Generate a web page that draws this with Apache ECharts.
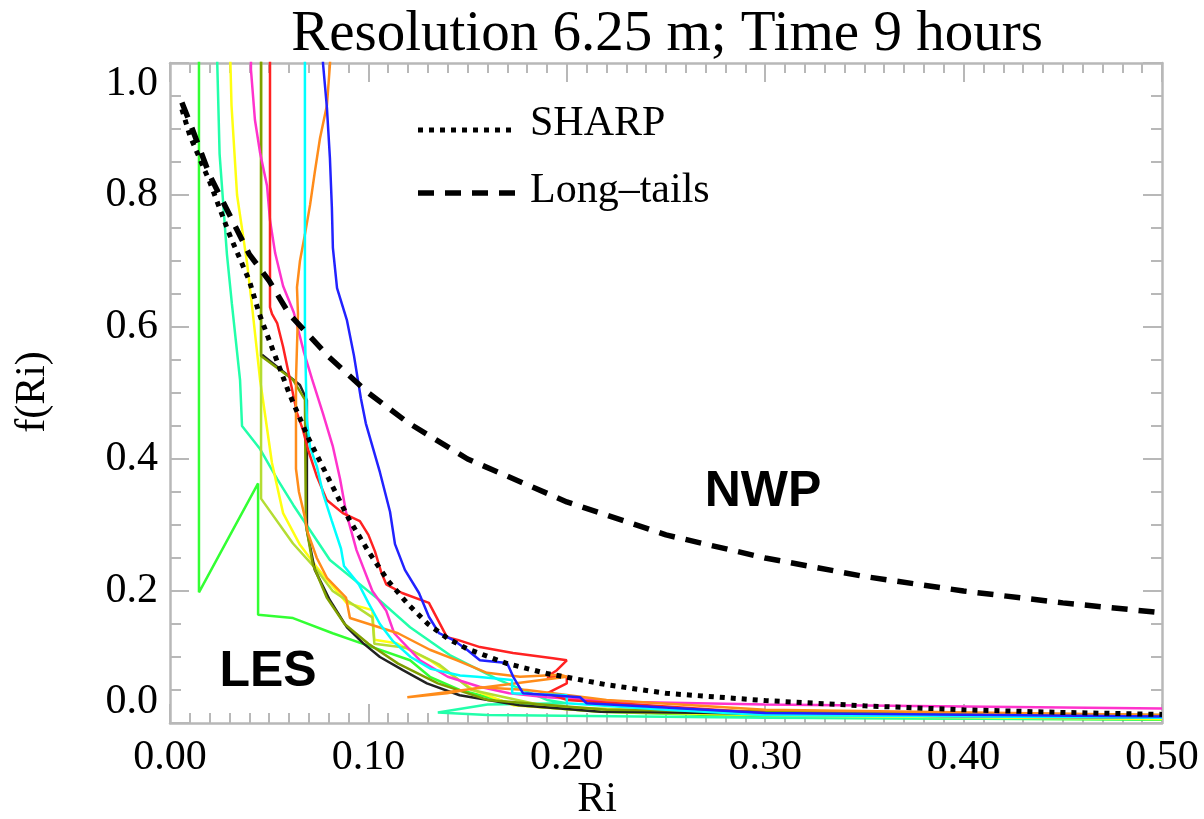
<!DOCTYPE html>
<html><head><meta charset="utf-8">
<script src="https://cdn.jsdelivr.net/npm/echarts@6/dist/echarts.min.js"></script>
<style>html,body{margin:0;padding:0;background:#fff}#c{width:1204px;height:819px}</style>
</head><body><div id="c"></div><script>
// ---- Text ----
const chartTitle = 'Resolution 6.25 m; Time 9 hours';
const xName = 'Ri';
const yName = 'f(Ri)';
const legendNames = ['SHARP', 'Long\u2013tails'];

// ---- Parametrised closures ----
const sharpRi = [0.006, 0.01, 0.02, 0.03, 0.04, 0.045, 0.05, 0.06, 0.07, 0.08, 0.09, 0.10, 0.11, 0.12, 0.13, 0.14, 0.15, 0.17, 0.19, 0.22, 0.25, 0.30, 0.35, 0.40, 0.45, 0.50];
const sharpF  = [0.93, 0.89, 0.82, 0.74, 0.67, 0.62, 0.58, 0.50, 0.43, 0.37, 0.31, 0.26, 0.215, 0.18, 0.15, 0.128, 0.112, 0.09, 0.075, 0.058, 0.045, 0.034, 0.026, 0.020, 0.016, 0.013];
const longRi = [0.006, 0.01, 0.02, 0.03, 0.04, 0.05, 0.06, 0.08, 0.10, 0.12, 0.15, 0.20, 0.25, 0.30, 0.35, 0.40, 0.45, 0.50];
const longF  = [0.94, 0.91, 0.83, 0.77, 0.71, 0.67, 0.62, 0.555, 0.50, 0.455, 0.40, 0.335, 0.285, 0.25, 0.222, 0.20, 0.182, 0.167];

// ---- LES curves [Ri, f(Ri)] ----
const lesGreen = [[0.0146,1.2],[0.0146,0.198],[0.0444,0.363],[0.0444,0.164],[0.062,0.159],[0.082,0.136],[0.102,0.115],[0.121,0.095],[0.131,0.07],[0.146,0.05],[0.176,0.027],[0.217,0.017],[0.318,0.008],[0.5,0.005]];
const lesAqua = [[0.0221,1.2],[0.025,0.862],[0.0287,0.71],[0.0312,0.635],[0.0353,0.52],[0.0363,0.45],[0.0454,0.415],[0.054,0.37],[0.0622,0.33],[0.0806,0.247],[0.106,0.185],[0.121,0.145],[0.141,0.103],[0.166,0.065],[0.19,0.035],[0.2,0.03],[0.16,0.028],[0.135,0.016],[0.16,0.012],[0.3,0.008],[0.5,0.006]];
const lesYellow = [[0.0287,1.2],[0.031,0.936],[0.0338,0.8],[0.0388,0.698],[0.0413,0.633],[0.0454,0.52],[0.0514,0.394],[0.057,0.318],[0.0655,0.27],[0.074,0.236],[0.084,0.2],[0.089,0.182],[0.102,0.171],[0.103,0.126],[0.114,0.121],[0.131,0.095],[0.153,0.05],[0.173,0.027],[0.217,0.017],[0.318,0.011],[0.5,0.006]];
const lesMagenta = [[0.0408,1.2],[0.0408,0.99],[0.0428,0.914],[0.0454,0.864],[0.0489,0.814],[0.0504,0.762],[0.053,0.712],[0.057,0.662],[0.0624,0.622],[0.0675,0.562],[0.0716,0.521],[0.077,0.47],[0.082,0.42],[0.0857,0.37],[0.0887,0.32],[0.094,0.262],[0.102,0.2],[0.109,0.17],[0.113,0.136],[0.126,0.095],[0.14,0.07],[0.156,0.055],[0.171,0.045],[0.19,0.039],[0.232,0.032],[0.3,0.028],[0.4,0.025],[0.5,0.022]];
const lesYellowGreen = [[0.0459,1.2],[0.0459,0.34],[0.062,0.272],[0.074,0.232],[0.082,0.2],[0.102,0.16],[0.103,0.12],[0.119,0.114],[0.136,0.088],[0.152,0.05],[0.19,0.025],[0.3,0.012],[0.5,0.009]];
const lesOlive = [[0.0459,1.2],[0.0459,0.556],[0.062,0.52],[0.068,0.49],[0.0685,0.3],[0.072,0.24],[0.079,0.19],[0.088,0.15],[0.1,0.12],[0.115,0.09],[0.135,0.06],[0.16,0.035],[0.22,0.02],[0.5,0.012]];
const lesBlack = [[0.0464,0.558],[0.0655,0.512],[0.069,0.489],[0.069,0.292],[0.073,0.232],[0.0806,0.186],[0.0892,0.145],[0.0973,0.121],[0.1058,0.1],[0.1174,0.08],[0.1295,0.06],[0.146,0.042],[0.176,0.027],[0.217,0.017],[0.5,0.008]];
const lesRed = [[0.0504,1.2],[0.0504,0.63],[0.0514,0.62],[0.054,0.606],[0.057,0.57],[0.0605,0.52],[0.064,0.47],[0.067,0.444],[0.0696,0.414],[0.0741,0.373],[0.079,0.338],[0.0871,0.318],[0.0957,0.306],[0.1,0.285],[0.1033,0.26],[0.1063,0.23],[0.109,0.21],[0.117,0.197],[0.1305,0.182],[0.1396,0.13],[0.145,0.126],[0.1562,0.115],[0.1729,0.106],[0.193,0.098],[0.2,0.095],[0.195,0.08],[0.19,0.07],[0.2,0.07],[0.2,0.06],[0.19,0.045],[0.2,0.035],[0.25,0.025],[0.3,0.015],[0.4,0.01],[0.5,0.008]];
const lesCyan = [[0.068,1.2],[0.068,0.6],[0.0685,0.52],[0.069,0.458],[0.0706,0.418],[0.0741,0.388],[0.0771,0.348],[0.0816,0.306],[0.0862,0.264],[0.0877,0.238],[0.0952,0.21],[0.1,0.182],[0.1058,0.15],[0.1124,0.124],[0.1213,0.1],[0.1315,0.082],[0.1462,0.072],[0.1547,0.07],[0.1724,0.065],[0.1725,0.045],[0.2,0.042],[0.2,0.03],[0.25,0.02],[0.3,0.012],[0.5,0.008]];
const lesBlue = [[0.0771,1.2],[0.0771,1.0],[0.0791,0.932],[0.0806,0.856],[0.0816,0.78],[0.0821,0.72],[0.0842,0.659],[0.0892,0.61],[0.0927,0.557],[0.0962,0.492],[0.0987,0.454],[0.1058,0.38],[0.1109,0.32],[0.1134,0.271],[0.1184,0.232],[0.1255,0.197],[0.1305,0.161],[0.1356,0.136],[0.1426,0.126],[0.1497,0.111],[0.1562,0.095],[0.1699,0.091],[0.173,0.07],[0.178,0.045],[0.2067,0.039],[0.21,0.03],[0.3,0.015],[0.5,0.01]];
const lesOrange = [[0.0815,1.05],[0.0806,0.997],[0.0791,0.936],[0.0756,0.886],[0.073,0.835],[0.0706,0.785],[0.068,0.74],[0.0655,0.7],[0.064,0.66],[0.0645,0.62],[0.0635,0.52],[0.0635,0.445],[0.0635,0.385],[0.065,0.35],[0.0675,0.318],[0.0695,0.288],[0.074,0.25],[0.0791,0.22],[0.0887,0.19],[0.0907,0.159],[0.1149,0.136],[0.131,0.111],[0.1447,0.095],[0.1598,0.076],[0.1764,0.07],[0.1966,0.073],[0.2,0.07],[0.1196,0.039],[0.1396,0.045],[0.1562,0.054],[0.18,0.05],[0.22,0.035],[0.3,0.02],[0.5,0.012]];

const lesCurves = [
  {data: lesGreen, color: '#33ff33'},
  {data: lesAqua, color: '#22ffaa'},
  {data: lesYellow, color: '#ffff11'},
  {data: lesYellowGreen, color: '#b4dd33'},
  {data: lesBlack, color: '#222222'},
  {data: lesOlive, color: '#7f9f00'},
  {data: lesMagenta, color: '#ff33cc'},
  {data: lesRed, color: '#ff2222'},
  {data: lesOrange, color: '#ff8c1a'},
  {data: lesCyan, color: '#00ffff'},
  {data: lesBlue, color: '#2222ff'}
];

const axisGray = '#b8b8b8';
const serif = '"Liberation Serif", "DejaVu Serif", serif';
const sharpDash = [5, 6];
const longDash = [16, 11];

function boxAxis(pos, extra) {
  return Object.assign({
    type: 'value', position: pos,
    axisLine: {show: true, onZero: false, lineStyle: {color: axisGray, width: 2.5}},
    axisTick: {show: true, inside: true, length: 19, lineStyle: {color: axisGray, width: 2}},
    splitLine: {show: false}
  }, extra);
}

const xLabel = {fontFamily: serif, fontSize: 42, color: '#000', margin: 14, formatter: v => v.toFixed(2)};
const yLabel = {fontFamily: serif, fontSize: 42, color: '#000', margin: 12, formatter: v => v.toFixed(1),
  verticalAlignMaxLabel: 'top', verticalAlignMinLabel: 'bottom'};

const series = lesCurves.map(c => ({
  type: 'line', data: c.data, symbol: 'none', showSymbol: false, silent: true,
  clip: true, lineStyle: {color: c.color, width: 2.5}, z: 2
}));
series.push({
  name: legendNames[0], type: 'line', symbol: 'none', silent: true, clip: true,
  data: sharpRi.map((r, i) => [r, sharpF[i]]),
  lineStyle: {color: '#000', width: 5, type: sharpDash}, z: 3
});
series.push({
  name: legendNames[1], type: 'line', symbol: 'none', silent: true, clip: true,
  data: longRi.map((r, i) => [r, longF[i]]),
  lineStyle: {color: '#000', width: 5.5, type: longDash}, z: 3
});

const chart = echarts.init(document.getElementById('c'), null, {renderer: 'canvas'});
chart.setOption({
  animation: false,
  backgroundColor: '#fff',
  grid: {left: 170, right: 42, top: 63, bottom: 96, containLabel: false},
  xAxis: [
    boxAxis('bottom', {min: 0, max: 0.5, interval: 0.1, axisLabel: xLabel,
      minorTick: {show: true, splitNumber: 10, length: 10, lineStyle: {color: axisGray, width: 2}}}),
    boxAxis('top', {min: 0, max: 0.5, interval: 0.1, axisLabel: {show: false},
      minorTick: {show: true, splitNumber: 10, length: 10, lineStyle: {color: axisGray, width: 2}}})
  ],
  yAxis: [
    boxAxis('left', {min: 0, max: 1, interval: 0.2, axisLabel: yLabel,
      minorTick: {show: true, splitNumber: 4, length: 11, lineStyle: {color: axisGray, width: 2}}}),
    boxAxis('right', {min: 0, max: 1, interval: 0.2, axisLabel: {show: false},
      minorTick: {show: true, splitNumber: 4, length: 11, lineStyle: {color: axisGray, width: 2}}})
  ],
  graphic: [
    {type: 'text', x: 667, y: 35, style: {text: chartTitle, font: '57px ' + serif, fill: '#000', align: 'center', verticalAlign: 'middle'}},
    {type: 'text', x: 597, y: 800, style: {text: xName, font: '42px ' + serif, fill: '#000', align: 'center', verticalAlign: 'middle'}},
    {type: 'text', x: 33, y: 392, rotation: Math.PI / 2, style: {text: yName, font: '42px ' + serif, fill: '#000', align: 'center', verticalAlign: 'middle'}},
    // legend samples
    {type: 'line', shape: {x1: 418, y1: 130, x2: 517, y2: 130}, style: {stroke: '#000', lineWidth: 5, lineDash: sharpDash}},
    {type: 'text', x: 530, y: 124, style: {text: legendNames[0], font: '42px ' + serif, fill: '#000', align: 'left', verticalAlign: 'middle'}},
    {type: 'line', shape: {x1: 418, y1: 193, x2: 517, y2: 193}, style: {stroke: '#000', lineWidth: 5.5, lineDash: longDash}},
    {type: 'text', x: 530, y: 191, style: {text: legendNames[1], font: '42px ' + serif, fill: '#000', align: 'left', verticalAlign: 'middle'}},
    {type: 'text', x: 763, y: 492, style: {text: 'NWP', font: 'bold 50px "Liberation Sans", Arial, sans-serif', fill: '#000', align: 'center', verticalAlign: 'middle'}},
    {type: 'text', x: 268, y: 672, style: {text: 'LES', font: 'bold 50px "Liberation Sans", Arial, sans-serif', fill: '#000', align: 'center', verticalAlign: 'middle'}}
  ],
  series: series
});
</script></body></html>
